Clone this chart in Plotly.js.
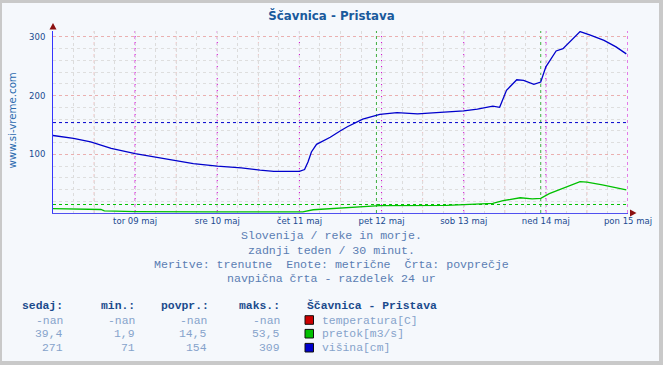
<!DOCTYPE html>
<html><head><meta charset="utf-8">
<script src="https://cdn.plot.ly/plotly-3.0.1.min.js"></script>
<style>html,body{margin:0;padding:0;background:#fff}#chart{width:663px;height:365px}</style>
</head><body><div id="chart"></div>
<script>
// ---------------- data ----------------
const chartTitle = 'Ščavnica - Pristava';
const xStart = '2023-05-08 00:00';
const xEnd = '2023-05-15 00:00';
const dayTicks = ['2023-05-09', '2023-05-10', '2023-05-11', '2023-05-12', '2023-05-13', '2023-05-14', '2023-05-15'];
const dayLabels = ['tor 09 maj', 'sre 10 maj', 'čet 11 maj', 'pet 12 maj', 'sob 13 maj', 'ned 14 maj', 'pon 15 maj'];
const noonTimes = ['2023-05-08 12:00', '2023-05-09 12:00', '2023-05-10 12:00', '2023-05-11 12:00',
  '2023-05-12 12:00', '2023-05-13 12:00', '2023-05-14 12:00'];
const markerTimes = ['2023-05-11 22:30', '2023-05-13 22:30'];
const yTickVals = [100, 200, 300];

const heightTimes = ['2023-05-08 00:00', '2023-05-08 06:00', '2023-05-08 11:00', '2023-05-08 17:00',
  '2023-05-09 00:00', '2023-05-09 06:00', '2023-05-09 11:00', '2023-05-09 17:00',
  '2023-05-10 00:00', '2023-05-10 07:00', '2023-05-10 12:30', '2023-05-10 16:30',
  '2023-05-11 00:00', '2023-05-11 01:30', '2023-05-11 02:30', '2023-05-11 03:30', '2023-05-11 05:00',
  '2023-05-11 09:00', '2023-05-11 12:00', '2023-05-11 14:00', '2023-05-11 18:30', '2023-05-11 23:30',
  '2023-05-12 04:30', '2023-05-12 10:30', '2023-05-12 16:00',
  '2023-05-13 00:00', '2023-05-13 04:00', '2023-05-13 08:30', '2023-05-13 10:30', '2023-05-13 12:30',
  '2023-05-13 15:30', '2023-05-13 17:30', '2023-05-13 20:30', '2023-05-13 22:30',
  '2023-05-14 00:00', '2023-05-14 03:00', '2023-05-14 05:00', '2023-05-14 07:00', '2023-05-14 10:00',
  '2023-05-14 13:00', '2023-05-14 17:00', '2023-05-14 20:30', '2023-05-14 23:30'];
const heightValues = [132, 127, 121, 110,
  101, 95, 89, 84,
  80, 77, 73, 71,
  71, 74, 87, 104, 117,
  129, 140, 147, 160, 168,
  171, 169, 171,
  174, 177, 182, 180, 209,
  227, 226, 219, 223,
  249, 276, 280, 291, 309,
  303, 294, 283, 271];

const flowTimes = ['2023-05-08 00:00', '2023-05-08 14:00', '2023-05-08 15:00', '2023-05-09 00:00',
  '2023-05-09 22:00', '2023-05-11 01:00', '2023-05-11 04:00', '2023-05-11 08:00', '2023-05-11 12:00',
  '2023-05-11 18:30', '2023-05-11 23:30', '2023-05-12 19:00', '2023-05-13 00:00', '2023-05-13 08:30',
  '2023-05-13 11:30', '2023-05-13 16:30', '2023-05-13 20:00', '2023-05-13 22:30', '2023-05-14 01:00',
  '2023-05-14 05:00', '2023-05-14 10:00', '2023-05-14 12:00', '2023-05-14 16:30', '2023-05-14 23:30'];
const flowValues = [7.5, 6, 3.5, 2.5,
  1.9, 1.9, 5.5, 7, 8,
  11.5, 12.5, 13, 14.5, 16.5,
  21, 26, 24, 25, 33,
  42, 53.5, 52.5, 48, 39.4];

const avgFlow = 14.5;
const avgHeight = 154;

const statHeaders = ['sedaj:', 'min.:', 'povpr.:', 'maks.:'];
const seriesNames = ['temperatura[C]', 'pretok[m3/s]', 'višina[cm]'];
const statNow = ['-nan', '39,4', '271'];
const statMin = ['-nan', '1,9', '71'];
const statAvg = ['-nan', '14,5', '154'];
const statMax = ['-nan', '53,5', '309'];
const infoLines = ['Slovenija / reke in morje.', 'zadnji teden / 30 minut.',
  'Meritve: trenutne  Enote: metrične  Črta: povprečje', 'navpična črta - razdelek 24 ur'];
const watermark = 'www.si-vreme.com';

// ---------------- layout helpers ----------------
const W = 663, H = 365, L = 53, R = 35, T = 31, B = 152;
const PW = W - L - R, PH = H - T - B;
const px = x => (x - L) / PW;
const py = y => (H - B - y) / PH;

const colTemp = '#cc0000', colFlow = '#00c000', colHeight = '#0000cc';
const seriesColors = [colTemp, colFlow, colHeight];
const mono = 'Liberation Mono, monospace';

const traces = [
  {x: flowTimes, y: flowValues, type: 'scatter', mode: 'lines',
   line: {color: colFlow, width: 1.3}, hoverinfo: 'skip'},
  {x: heightTimes, y: heightValues, type: 'scatter', mode: 'lines',
   line: {color: colHeight, width: 1.3}, hoverinfo: 'skip'}
];

const shapes = [
  // frame
  {type: 'rect', layer: 'below', xref: 'paper', yref: 'paper',
   x0: px(2), x1: px(659), y0: py(3), y1: py(361),
   fillcolor: '#f5f8fc', line: {width: 0}}
];
// 12-hour pink grid lines
noonTimes.forEach(t => shapes.push({type: 'line', layer: 'below', xref: 'x', yref: 'paper',
  x0: t, x1: t, y0: 0, y1: 1, line: {color: '#f0c0c0', width: 1, dash: 'dot'}}));
// green marker lines
markerTimes.forEach(t => shapes.push({type: 'line', layer: 'below', xref: 'x', yref: 'paper',
  x0: t, x1: t, y0: 0, y1: 1, line: {color: '#3fae3f', width: 1, dash: 'dot'}}));
// day lines (magenta)
dayTicks.forEach(t => shapes.push({type: 'line', layer: 'below', xref: 'x', yref: 'paper',
  x0: t, x1: t, y0: 0, y1: 1, line: {color: '#d400d4', width: 1, dash: 'dot'}}));
shapes.push(
  // average lines
  {type: 'line', xref: 'paper', yref: 'y', x0: 0, x1: 1, y0: avgHeight, y1: avgHeight,
   line: {color: colHeight, width: 1, dash: 'dot'}},
  {type: 'line', xref: 'paper', yref: 'y', x0: 0, x1: 1, y0: avgFlow, y1: avgFlow,
   line: {color: colFlow, width: 1, dash: 'dot'}},
  // axis arrows
  {type: 'path', xref: 'paper', yref: 'paper',
   path: `M ${px(53)} ${py(23)} L ${px(49.5)} ${py(29.5)} L ${px(56.5)} ${py(29.5)} Z`,
   fillcolor: '#8b1010', line: {width: 0}},
  {type: 'path', xref: 'paper', yref: 'paper',
   path: `M ${px(636.5)} ${py(213)} L ${px(630)} ${py(209.5)} L ${px(630)} ${py(216.5)} Z`,
   fillcolor: '#8b1010', line: {width: 0}}
);

// legend squares
for (let i = 0; i < 3; i++) {
  const cy = [320, 333.7, 347.7][i];
  shapes.push({type: 'rect', xref: 'paper', yref: 'paper',
    x0: px(305), x1: px(313.5), y0: py(cy + 4.3), y1: py(cy - 4.3),
    fillcolor: seriesColors[i], line: {color: '#101010', width: 1}});
}

const annotations = [];
annotations.push({text: watermark, xref: 'paper', yref: 'paper', x: px(11.5), y: py(121),
  textangle: -90, showarrow: false, xanchor: 'center', yanchor: 'middle',
  font: {family: 'DejaVu Sans, sans-serif', size: 10.2, color: '#2a6aae'}});

const lineY = [235.7, 250, 264, 278];
infoLines.forEach((t, i) => annotations.push({text: t, xref: 'paper', yref: 'paper',
  x: px(331.5), y: py(lineY[i]), showarrow: false, xanchor: 'center', yanchor: 'middle',
  font: {family: mono, size: 11.6, color: '#5a7db3'}}));

const colRight = [64.5, 136.5, 211, 281.5];
statHeaders.forEach((t, i) => annotations.push({text: '<b>' + t + '</b>', xref: 'paper', yref: 'paper',
  x: px(colRight[i]), y: py(305.7), showarrow: false, xanchor: 'right', yanchor: 'middle',
  font: {family: mono, size: 11.4, color: '#1a4a8c'}}));
annotations.push({text: '<b>' + chartTitle + '</b>', xref: 'paper', yref: 'paper',
  x: px(305), y: py(305.7), showarrow: false, xanchor: 'left', yanchor: 'middle',
  font: {family: mono, size: 11.4, color: '#1a4a8c'}});

const rowY = [320.5, 333.5, 347.5];
const valCols = [statNow, statMin, statAvg, statMax];
const valRight = [64.5, 136.5, 209, 281.5];
for (let r = 0; r < 3; r++) {
  valCols.forEach((col, c) => annotations.push({text: col[r], xref: 'paper', yref: 'paper',
    x: px(valRight[c]), y: py(rowY[r]), showarrow: false, xanchor: 'right', yanchor: 'middle',
    font: {family: mono, size: 11.4, color: '#86a3cb'}}));
  annotations.push({text: seriesNames[r], xref: 'paper', yref: 'paper',
    x: px(319.5), y: py(rowY[r]), showarrow: false, xanchor: 'left', yanchor: 'middle',
    font: {family: mono, size: 11.4, color: '#86a3cb'}});
}

const layout = {
  width: W, height: H,
  margin: {l: L, r: R, t: T, b: B, pad: 0},
  paper_bgcolor: '#c9c9c9',
  plot_bgcolor: 'rgba(0,0,0,0)',
  showlegend: false,
  title: {text: '<b>' + chartTitle + '</b>', x: 0.5, xanchor: 'center', y: 1 - 16 / H, yanchor: 'middle',
    font: {family: 'DejaVu Sans, sans-serif', size: 11.8, color: '#1a5a9c'}},
  xaxis: {type: 'date', range: [xStart, xEnd], tickmode: 'array', tickvals: dayTicks, ticktext: dayLabels,
    showgrid: false,
    showline: true, linecolor: '#5050f0', linewidth: 1, zeroline: false, ticks: '',
    tickfont: {family: 'DejaVu Sans, sans-serif', size: 8.5, color: '#1a4a90'},
    minor: {tickmode: 'linear', tick0: xStart, dtick: 6 * 3600000, showgrid: true,
      gridcolor: '#dcdcdc', griddash: 'dot', gridwidth: 1, ticks: ''},
    fixedrange: true},
  yaxis: {range: [0, 310], tickmode: 'array', tickvals: yTickVals,
    showgrid: true, gridcolor: '#eab0b0', griddash: 'dot', gridwidth: 1,
    showline: true, linecolor: '#3535ff', linewidth: 1, zeroline: false,
    ticks: 'outside', ticklen: 5, tickcolor: 'rgba(0,0,0,0)',
    tickfont: {family: 'DejaVu Sans, sans-serif', size: 8.5, color: '#1a4a90'},
    minor: {tickmode: 'linear', tick0: 0, dtick: 20, showgrid: true,
      gridcolor: '#dedede', griddash: 'dot', gridwidth: 1, ticks: ''},
    fixedrange: true},
  shapes: shapes,
  annotations: annotations
};

Plotly.newPlot('chart', traces, layout, {staticPlot: true, displayModeBar: false});
</script></body></html>
